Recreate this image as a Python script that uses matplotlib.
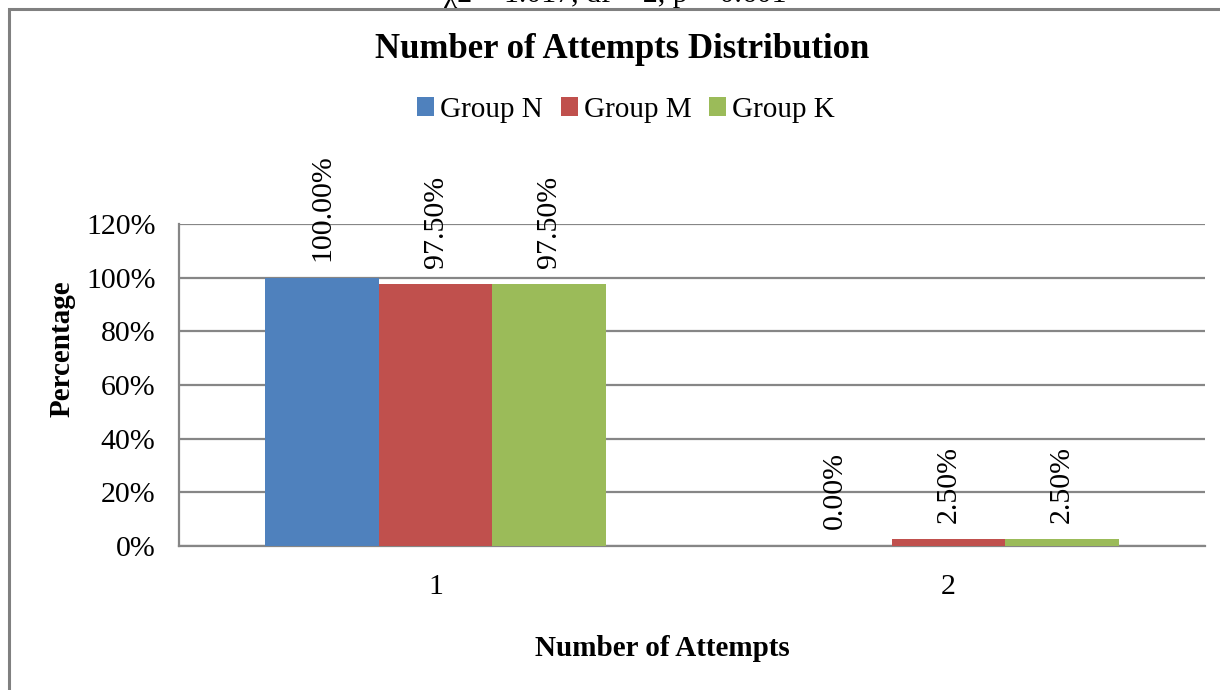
import matplotlib
matplotlib.use("Agg")
import matplotlib.pyplot as plt
from matplotlib.patches import Rectangle
import numpy as np

categories = ["1", "2"]
groups = ["Group N", "Group M", "Group K"]
group_n = [100.00, 0.00]
group_m = [97.50, 2.50]
group_k = [97.50, 2.50]
colors = ["#4F81BD", "#C0504D", "#9BBB59"]
yticks = [0, 20, 40, 60, 80, 100, 120]

plt.rcParams["font.family"] = ["Liberation Serif", "DejaVu Serif"]

W, H = 1220, 690
fig = plt.figure(figsize=(W / 100, H / 100), dpi=100)

# outer chart frame (extends beyond the right and bottom edges)
fig.patches.append(Rectangle((9 / W, -0.1), 1.2, 1 - 9 / H + 0.1,
                             transform=fig.transFigure, fill=False,
                             edgecolor="#808080", linewidth=2.2))

# statistics line sitting above the frame
fig.text(615 / W, 1 - 2 / H, "χ2 = 1.017, df = 2, p = 0.601",
         ha="center", va="baseline", fontsize=21.5, color="black")

left, right, top, bottom = 179, 1205, 224, 546
ax = fig.add_axes([left / W, 1 - bottom / H, (right - left) / W, (bottom - top) / H])

x = np.arange(1, len(categories) + 1)
width = 0.221
series = [group_n, group_m, group_k]
for i, (name, vals, c) in enumerate(zip(groups, series, colors)):
    pos = x + (i - 1) * width
    ax.bar(pos, vals, width=width, color=c, label=name, zorder=3)
    for px, v in zip(pos, vals):
        ax.annotate(f"{v:.2f}%", (px, v), xytext=(0, 12), textcoords="offset points",
                    rotation=90, ha="center", va="bottom", fontsize=21.5)

ax.set_xlim(0.5, 2.5)
ax.set_ylim(0, 120)
ax.set_yticks(yticks)
ax.set_yticklabels([f"{t}%" for t in yticks], fontsize=21.5)
ax.set_xticks(x)
ax.set_xticklabels(categories, fontsize=21.5)
ax.yaxis.grid(True, color="#868686", linewidth=1.6, zorder=0)
ax.set_axisbelow(True)
for s in ["top", "right"]:
    ax.spines[s].set_visible(False)
ax.spines["left"].set_color("#868686")
ax.spines["left"].set_linewidth(1.6)
ax.spines["bottom"].set_color("#868686")
ax.spines["bottom"].set_linewidth(1.6)
ax.tick_params(axis="y", length=0, pad=17)
ax.tick_params(axis="x", length=0, pad=20)

fig.text(622 / W, 1 - 49 / H, "Number of Attempts Distribution", ha="center", va="center",
         fontsize=25, fontweight="bold")
fig.text(662 / W, 1 - 648 / H, "Number of Attempts", ha="center", va="center",
         fontsize=21, fontweight="bold")
fig.text(62 / W, 1 - 349 / H, "Percentage", ha="center", va="center", rotation=90,
         fontsize=21, fontweight="bold")

handles, labels = ax.get_legend_handles_labels()
fig.legend(handles, labels, loc="center", bbox_to_anchor=(626 / W, 1 - 110 / H), ncol=3,
           frameon=False, fontsize=21, handlelength=0.6, handleheight=0.6,
           handletextpad=0.2, columnspacing=0.6)

fig.savefig("out.png", dpi=100)
